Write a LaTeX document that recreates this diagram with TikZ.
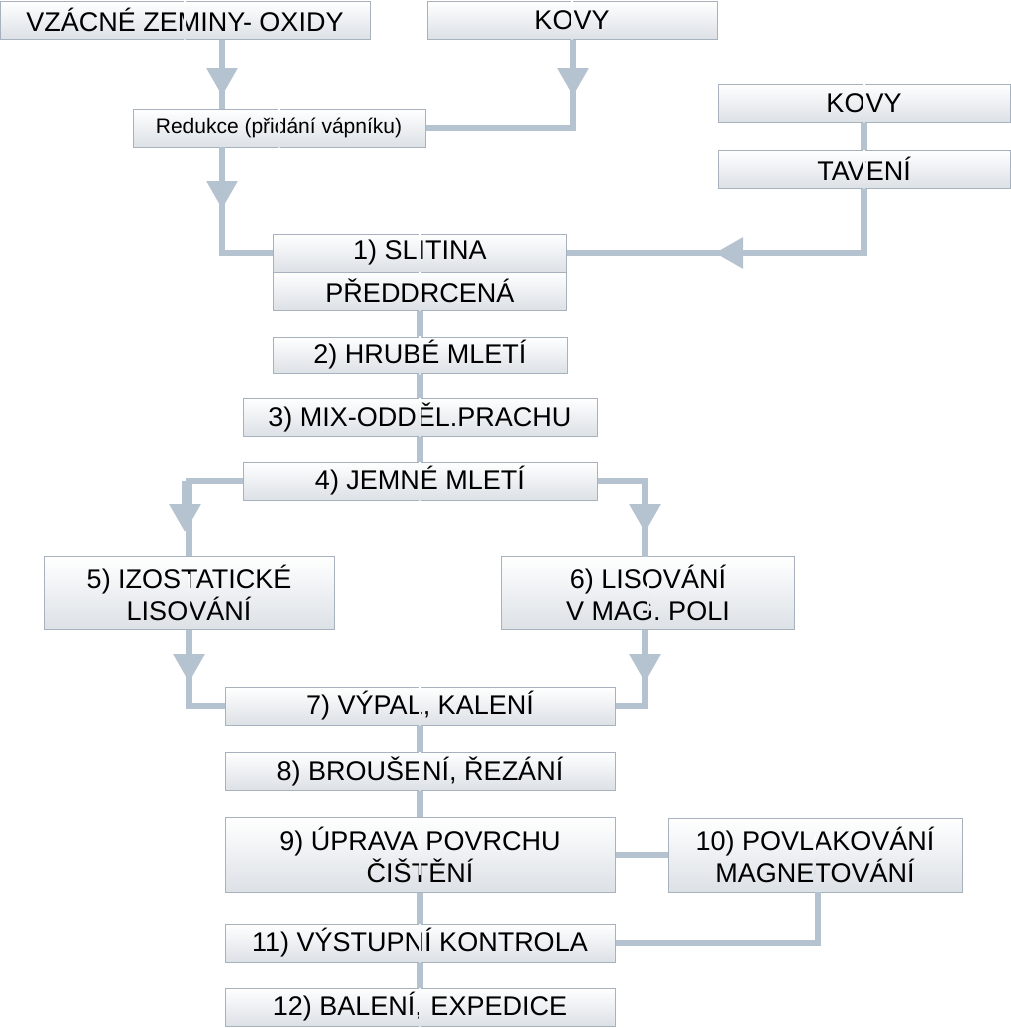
\documentclass[tikz,border=0pt]{standalone}
\usepackage{fontspec}
\setmainfont{Liberation Sans}
\usepackage{xcolor}
\usetikzlibrary{positioning,arrows.meta}
\definecolor{flowgray}{HTML}{B5C2CF}
\definecolor{edgegray}{HTML}{A7B2BE}
\definecolor{boxbottom}{HTML}{DCE1E6}

\begin{document}
\begin{tikzpicture}[x=0.5pt, y=-0.5pt,
  procbox/.style={rectangle, draw=edgegray, line width=0.5pt, top color=white, bottom color=boxbottom, align=center, inner sep=0pt, font=\fontsize{13.5}{16}\selectfont, minimum height=19pt},
  flow/.style={draw=flowgray, line width=3pt},
  flowtip/.style={flow, -{Triangle[width=15pt, length=14pt]}}]
\useasboundingbox (0,0) rectangle (1011,1028);

\node[procbox, minimum width=185pt] (oxidy) at (185,20) {VZÁCNÉ ZEMINY- OXIDY};
\node[procbox, minimum width=145pt] (kovya) at (572,20) {KOVY};
\node[procbox, minimum width=146pt, font=\fontsize{10.5}{12}\selectfont] (redukce) at (279,128) {Redukce (přidání vápníku)};
\node[procbox, minimum width=146pt] (kovyb) at (864,103) {KOVY};
\node[procbox, minimum width=146pt] (taveni) at (864,169) {TAVENÍ};
\node[procbox, minimum width=146.5pt] (slitina) at (420,253) {1) SLITINA};
\node[procbox, minimum width=146.5pt] (predd) at (420,291) {PŘEDDRCENÁ};
\node[procbox, minimum width=147pt, minimum height=18pt] (hrube) at (420,355) {2) HRUBÉ MLETÍ};
\node[procbox, minimum width=177pt] (mix) at (420,417) {3) MIX-ODDĚL.PRACHU};
\node[procbox, minimum width=177pt] (jemne) at (420,481) {4) JEMNÉ MLETÍ};
\node[procbox, minimum width=145pt, minimum height=36.5pt] (izo) at (189,593) {5) IZOSTATICKÉ\\LISOVÁNÍ};
\node[procbox, minimum width=146.5pt, minimum height=36.5pt] (lis) at (648,593) {6) LISOVÁNÍ\\V MAG. POLI};
\node[procbox, minimum width=195pt] (vypal) at (420,706) {7) VÝPAL, KALENÍ};
\node[procbox, minimum width=195pt] (brouseni) at (420,771) {8) BROUŠENÍ, ŘEZÁNÍ};
\node[procbox, minimum width=195pt, minimum height=37.5pt] (uprava) at (420,855) {9) ÚPRAVA POVRCHU\\ČIŠTĚNÍ};
\node[procbox, minimum width=147pt, minimum height=37pt] (povlak) at (815,855) {10) POVLAKOVÁNÍ\\MAGNETOVÁNÍ};
\node[procbox, minimum width=195pt] (kontrola) at (420,943) {11) VÝSTUPNÍ KONTROLA};
\node[procbox, minimum width=195pt] (baleni) at (420,1007) {12) BALENÍ, EXPEDICE};

% top inputs
\coordinate (oxa) at (222,40);
\coordinate (kva) at (573,40);
\coordinate (rda) at (222,147);
\begin{scope}[on background layer/.try]
\draw[flow] (oxa) -- (oxa |- redukce.north);
\draw[flowtip] (oxa) -- ++(0,56);
\draw[flow] (kva) |- (redukce.east);
\draw[flowtip] (kva) -- ++(0,56);
\draw[flow] (rda) |- (slitina.west);
\draw[flowtip] (rda) -- ++(0,62);
\draw[flow] (kovyb) -- (taveni);
\draw[flow] (taveni.south) |- (slitina.east);
\draw[flowtip] (864,253) -- (715,253);
\end{scope}

% main line
\draw[flow] (predd) -- (hrube);
\draw[flow] (hrube) -- (mix);
\draw[flow] (mix) -- (jemne);
\draw[flow] (jemne.west) -| (izo.north);
\draw[flowtip] (185,481) -- (185,532);
\draw[flow] (jemne.east) -| (645,557);
\draw[flowtip] (645,481) -- (645,532);
\draw[flow] (189,630) |- (vypal.west);
\draw[flowtip] (189,630) -- (189,682);
\draw[flow] (645,630) |- (vypal.east);
\draw[flowtip] (645,630) -- (645,682);
\draw[flow] (vypal) -- (brouseni);
\draw[flow] (brouseni) -- (uprava);
\draw[flow] (uprava) -- (povlak);
\draw[flow] (818,892) |- (kontrola.east);
\draw[flow] (uprava) -- (kontrola);
\draw[flow] (kontrola) -- (baleni);

% boxes over lines
\foreach \n in {oxidy,kovya,redukce,kovyb,taveni,slitina,predd,hrube,mix,jemne,izo,lis,vypal,brouseni,uprava,povlak,kontrola,baleni}
  \node[procbox, draw=none, fill=none] at (\n) {};
\end{tikzpicture}
\end{document}
